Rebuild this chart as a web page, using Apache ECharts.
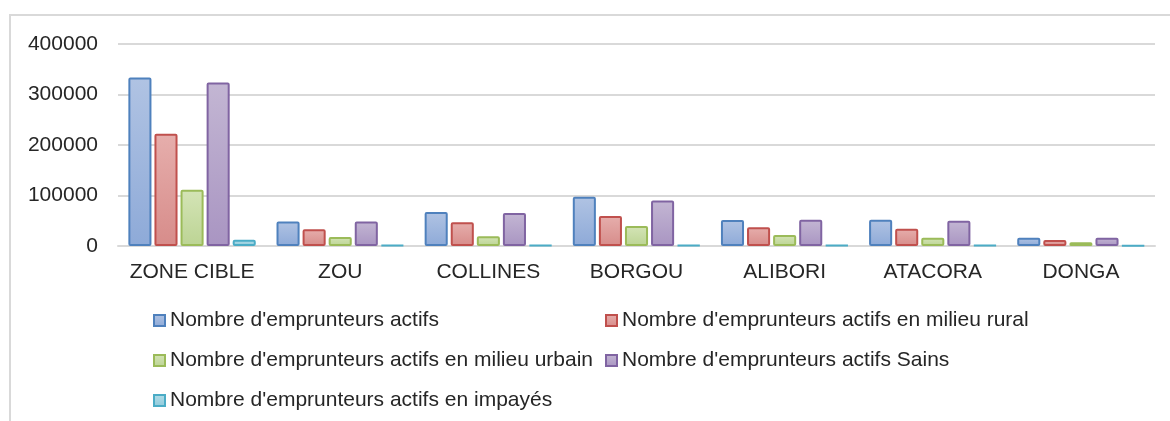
<!DOCTYPE html>
<html lang="fr">
<head>
    <meta charset="UTF-8">
    <title>Emprunteurs actifs</title>
    <script src="https://cdn.jsdelivr.net/npm/echarts@6/dist/echarts.min.js"></script>
    <style>
        html, body { margin: 0; padding: 0; background: #fff; }
        #chart { width: 1170px; height: 421px; }
    </style>
</head>
<body>
<div id="chart"></div>
<script>
    // categories (departements)
    const categories = ['ZONE CIBLE', 'ZOU', 'COLLINES', 'BORGOU', 'ALIBORI', 'ATACORA', 'DONGA'];

    // series values
    const actifs = [333500, 48700, 67100, 97300, 51300, 51900, 16400];
    const rural = [222400, 33000, 46800, 59200, 36900, 34100, 11800];
    const urbain = [111300, 17800, 19100, 39500, 21700, 16400, 7300];
    const sains = [323600, 48700, 65100, 90200, 51900, 50000, 16400];
    const impayes = [12500, 2000, 1500, 1500, 1500, 1500, 1200];

    const seriesNames = [
        "Nombre d'emprunteurs actifs",
        "Nombre d'emprunteurs actifs en milieu rural",
        "Nombre d'emprunteurs actifs en milieu urbain",
        "Nombre d'emprunteurs actifs Sains",
        "Nombre d'emprunteurs actifs en impayés"
    ];
    const seriesData = [actifs, rural, urbain, sains, impayes];

    // fill top, fill bottom, border
    const palette = [
        ['#b0c3e3', '#8eaad8', '#4f81bd'],
        ['#e6aeac', '#d78c8a', '#c0504d'],
        ['#d4e4b6', '#bcd494', '#9bbb59'],
        ['#c3b6d3', '#a995c2', '#8064a2'],
        ['#b3dde8', '#8fcadb', '#4bacc6']
    ];

    const font = 'Liberation Sans, Arial, sans-serif';

    const chart = echarts.init(document.getElementById('chart'));

    const series = seriesNames.map((name, i) => ({
        name: name,
        type: 'bar',
        data: seriesData[i],
        barGap: '13%',
        barCategoryGap: '14%',
        itemStyle: {
            color: new echarts.graphic.LinearGradient(0, 0, 0, 1, [
                {offset: 0, color: palette[i][0]},
                {offset: 1, color: palette[i][1]}
            ]),
            borderColor: palette[i][2],
            borderWidth: 2,
            borderRadius: 1
        }
    }));

    const legendText = {fontFamily: font, fontSize: 21, color: '#262626', lineHeight: 20};

    chart.setOption({
        animation: false,
        backgroundColor: '#fff',
        graphic: [{
            type: 'rect',
            shape: {x: 10, y: 15, width: 1300, height: 600},
            style: {fill: 'none', stroke: '#d9d9d9', lineWidth: 2},
            silent: true
        }],
        grid: {left: 118, right: 15, top: 44, bottom: 175},
        legend: [{
            orient: 'vertical',
            left: 148,
            top: 305,
            icon: 'rect',
            itemWidth: 11,
            itemHeight: 11,
            itemGap: 19,
            data: [seriesNames[0], seriesNames[2], seriesNames[4]],
            textStyle: legendText
        }, {
            orient: 'vertical',
            left: 600,
            top: 305,
            icon: 'rect',
            itemWidth: 11,
            itemHeight: 11,
            itemGap: 19,
            data: [seriesNames[1], seriesNames[3]],
            textStyle: legendText
        }],
        xAxis: {
            type: 'category',
            data: categories,
            axisLine: {lineStyle: {color: '#d9d9d9', width: 2}},
            axisTick: {show: false},
            axisLabel: {fontFamily: font, fontSize: 21, color: '#262626', margin: 16, interval: 0}
        },
        yAxis: {
            type: 'value',
            min: 0,
            max: 400000,
            interval: 100000,
            axisLine: {show: false},
            axisTick: {show: false},
            splitLine: {lineStyle: {color: '#d9d9d9', width: 2}},
            axisLabel: {
                fontFamily: font, fontSize: 21, color: '#262626', margin: 20,
                formatter: v => String(v)
            }
        },
        series: series
    });
</script>
</body>
</html>
